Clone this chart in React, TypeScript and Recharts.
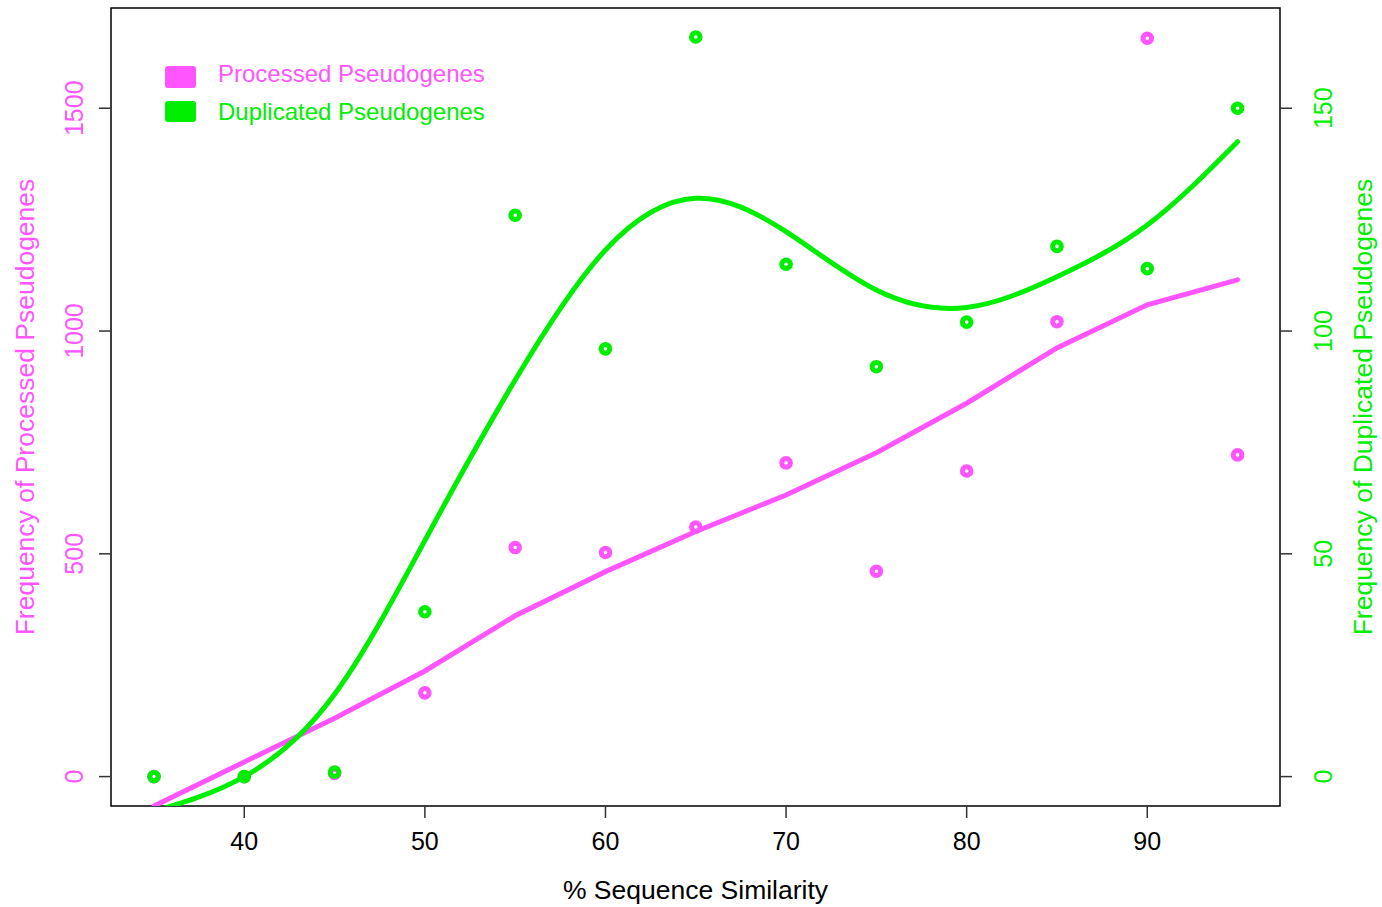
import React from 'react';
import { ComposedChart, XAxis, YAxis, Line, Scatter, ReferenceArea } from 'recharts';

const similarity = [35, 40, 45, 50, 55, 60, 65, 70, 75, 80, 85, 90, 95];
const processedCounts = [0, 0, 7, 188, 514, 503, 560, 704, 461, 686, 1021, 1657, 722];
const duplicatedCounts = [0, 0, 1, 37, 126, 96, 166, 115, 92, 102, 119, 114, 150];
const processedFit = [-66, 33, 131, 237, 361, 460, 550, 632, 727, 838, 962, 1059, 1115];
const duplicatedFit = [-7.8, 0, 18.5, 53, 89, 118.2, 129.8, 122.3, 109.2, 105.3, 112.2, 123.8, 142.5];
const xTicks = [40, 50, 60, 70, 80, 90];
const leftTicks = [0, 500, 1000, 1500];
const rightTicks = [0, 50, 100, 150];
const legendLabels = ['Processed Pseudogenes', 'Duplicated Pseudogenes'];

const X_DOMAIN: [number, number] = [32.62, 97.35];
const LEFT_DOMAIN: [number, number] = [-66, 1725];
const RIGHT_DOMAIN: [number, number] = [-6.6, 172.5];

const PINK = '#FF55FF';
const GREEN = '#00EE00';
const FONT = '"Liberation Sans", Arial, Helvetica, sans-serif';

const toXY = (ys: number[]) => similarity.map((x, i) => ({ x, y: ys[i] }));
const processedPts = toXY(processedCounts);
const duplicatedPts = toXY(duplicatedCounts);
const processedLine = toXY(processedFit);
const duplicatedLine = toXY(duplicatedFit);

const XTick = (p: any) => (
  <text x={p.x} y={p.y + 32} textAnchor="middle" fill="#000" fontSize={25} fontFamily={FONT}>
    {p.payload.value}
  </text>
);

const LeftTick = (p: any) => {
  const bx = p.x - 15.7;
  return (
    <text x={bx} y={p.y} transform={`rotate(-90 ${bx} ${p.y})`} textAnchor="middle" fill={PINK} fontSize={25} fontFamily={FONT}>
      {p.payload.value}
    </text>
  );
};

const RightTick = (p: any) => {
  const bx = p.x + 39.7;
  return (
    <text x={bx} y={p.y} transform={`rotate(-90 ${bx} ${p.y})`} textAnchor="middle" fill={GREEN} fontSize={25} fontFamily={FONT}>
      {p.payload.value}
    </text>
  );
};

const ring = (color: string) => (p: any) => (
  <circle cx={p.cx} cy={p.cy} r={4.3} fill="none" stroke={color} strokeWidth={5} />
);

export default function App() {
  return (
    <div style={{ position: 'absolute', left: 0, top: 0, width: 1382, height: 907, background: '#fff' }}>
      <ComposedChart width={1382} height={907} margin={{ top: 8, right: 0, bottom: 0, left: 0 }}>
        <XAxis
          type="number"
          dataKey="x"
          domain={X_DOMAIN}
          ticks={xTicks}
          interval={0}
          allowDataOverflow
          height={101}
          tickSize={12}
          tickMargin={0}
          axisLine={false}
          tickLine={{ stroke: '#333', strokeWidth: 1.5 }}
          tick={XTick}
        />
        <YAxis
          yAxisId="left"
          orientation="left"
          dataKey="y"
          width={111}
          domain={LEFT_DOMAIN}
          ticks={leftTicks}
          interval={0}
          allowDataOverflow
          tickSize={12}
          tickMargin={0}
          axisLine={false}
          tickLine={{ stroke: '#333', strokeWidth: 1.5 }}
          tick={LeftTick}
        />
        <YAxis
          yAxisId="right"
          orientation="right"
          dataKey="y"
          width={102}
          domain={RIGHT_DOMAIN}
          ticks={rightTicks}
          interval={0}
          allowDataOverflow
          tickSize={12}
          tickMargin={0}
          axisLine={false}
          tickLine={{ stroke: '#333', strokeWidth: 1.5 }}
          tick={RightTick}
        />
        <ReferenceArea
          yAxisId="left"
          x1={X_DOMAIN[0]}
          x2={X_DOMAIN[1]}
          y1={LEFT_DOMAIN[0]}
          y2={LEFT_DOMAIN[1]}
          fill="none"
          stroke="#000"
          strokeWidth={1.5}
          ifOverflow="visible"
        />
        <Scatter yAxisId="left" data={processedPts} dataKey="y" shape={ring(PINK)} isAnimationActive={false} />
        <Line
          yAxisId="left"
          data={processedLine}
          dataKey="y"
          type="linear"
          stroke={PINK}
          strokeWidth={5}
          strokeLinecap="round"
          dot={false}
          activeDot={false}
          isAnimationActive={false}
        />
        <Scatter yAxisId="right" data={duplicatedPts} dataKey="y" shape={ring(GREEN)} isAnimationActive={false} />
        <Line
          yAxisId="right"
          data={duplicatedLine}
          dataKey="y"
          type="natural"
          stroke={GREEN}
          strokeWidth={5}
          strokeLinecap="round"
          dot={false}
          activeDot={false}
          isAnimationActive={false}
        />
      </ComposedChart>
      <svg
        width={1382}
        height={907}
        style={{ position: 'absolute', left: 0, top: 0, pointerEvents: 'none' }}
        fontFamily={FONT}
      >
        <rect x={165} y={66} width={31} height={22} rx={3} fill={PINK} />
        <text x={218} y={82} fontSize={24} fill={PINK}>{legendLabels[0]}</text>
        <rect x={165} y={101} width={31} height={21} rx={3} fill={GREEN} />
        <text x={218} y={120} fontSize={24} fill={GREEN}>{legendLabels[1]}</text>
        <text x={695.5} y={899} textAnchor="middle" fontSize={26.5} fill="#000">% Sequence Similarity</text>
        <text x={34} y={407} transform="rotate(-90 34 407)" textAnchor="middle" fontSize={26.5} fill={PINK}>
          Frequency of Processed Pseudogenes
        </text>
        <text x={1371.7} y={407} transform="rotate(-90 1371.7 407)" textAnchor="middle" fontSize={26.5} fill={GREEN}>
          Frequency of Duplicated Pseudogenes
        </text>
      </svg>
    </div>
  );
}
